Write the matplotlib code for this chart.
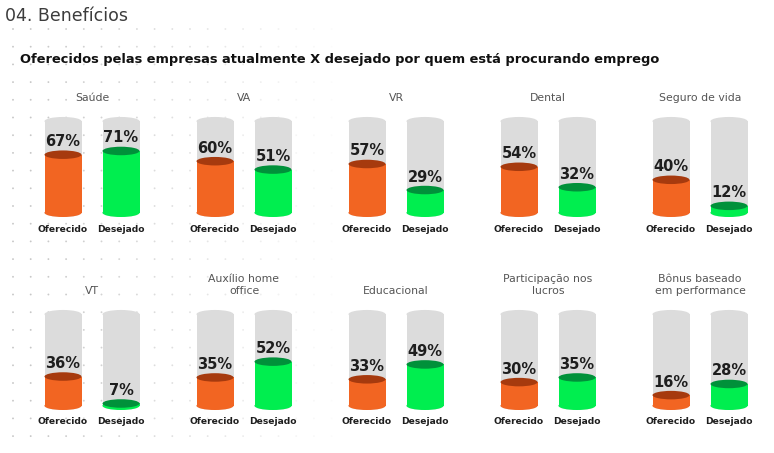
import numpy as np
import matplotlib.pyplot as plt
from matplotlib.patches import Ellipse, Rectangle

# data
categorias = ['Saúde', 'VA', 'VR', 'Dental', 'Seguro de vida',
              'VT', 'Auxílio home\noffice', 'Educacional',
              'Participação nos\nlucros', 'Bônus baseado\nem performance']
oferecido = [67, 60, 57, 54, 40, 36, 35, 33, 30, 16]
desejado = [71, 51, 29, 32, 12, 7, 52, 49, 35, 28]
series = ['Oferecido', 'Desejado']

titulo = '04. Benefícios'
subtitulo = 'Oferecidos pelas empresas atualmente X desejado por quem está procurando emprego'

W, H = 774, 453
LARANJA, LARANJA_TOPO = '#F26522', '#A63A0E'
VERDE, VERDE_TOPO = '#00EE4F', '#00913A'
CINZA = '#DCDCDC'
PX = 0.93          # pixels per percentage point
ELL = 8.5 / PX     # ellipse height in data units
LARG = 37          # cylinder width (px)

fig = plt.figure(figsize=(W / 100, H / 100), dpi=100)
fig.patch.set_facecolor('white')

# dotted background
bg = fig.add_axes([0, 0, 1, 1])
bg.set_xlim(0, W)
bg.set_ylim(H, 0)
bg.axis('off')
gx, gy = np.meshgrid(np.arange(13, 340, 17.7), np.arange(29, 445, 17.7))
alpha = np.clip(1.1 - gx / 320, 0, 1)
cores = np.zeros((gx.size, 4))
cores[:, :3] = 0.78
cores[:, 3] = alpha.ravel()
bg.scatter(gx.ravel(), gy.ravel(), s=1.8, c=cores, linewidths=0)

bg.text(5, 21, titulo, fontsize=12.5, color='#3c3c3c', va='baseline')
bg.text(20, 60, subtitulo, fontsize=9.35, color='#111111', fontweight='bold', va='center')


def cilindro(ax, x, valor, corpo, topo):
    ax.add_patch(Rectangle((x - LARG / 2, ELL / 2), LARG, max(valor - ELL / 2, 0),
                           facecolor=corpo, edgecolor='none', zorder=3))
    ax.add_patch(Ellipse((x, ELL / 2), LARG, ELL, facecolor=corpo, edgecolor='none', zorder=3))
    ax.add_patch(Ellipse((x, max(valor, ELL / 2)), LARG, ELL, facecolor=topo, edgecolor='none', zorder=4))


ymin, ymax = -22, 118
for i, cat in enumerate(categorias):
    lin, col = divmod(i, 5)
    cx = 92 + 152 * col
    base = 217 if lin == 0 else 410
    topo_px = base - ymax * PX
    alt_px = (ymax - ymin) * PX
    ax = fig.add_axes([(cx - 58) / W, 1 - (topo_px + alt_px) / H, 116 / W, alt_px / H])
    ax.set_xlim(-58, 58)
    ax.set_ylim(ymin, ymax)
    ax.axis('off')

    vals = [oferecido[i], desejado[i]]
    estilos = [(LARANJA, LARANJA_TOPO), (VERDE, VERDE_TOPO)]
    for j, (v, (c1, c2)) in enumerate(zip(vals, estilos)):
        x = -29 + 58 * j
        cilindro(ax, x, 103, CINZA, CINZA)
        cilindro(ax, x, v, c1, c2)
        ax.text(x, v + 13 / PX, f'{v}%', ha='center', va='center', fontsize=10.5,
                fontweight='bold', color='#1e1e1e', zorder=5)
        ax.text(x, -12 / PX, series[j], ha='center', va='center', fontsize=6.6,
                fontweight='bold', color='#1e1e1e')

    y_cat = 98 if lin == 0 else 291
    bg.text(cx, y_cat + 5, cat, ha='center', va='bottom', fontsize=7.8, color='#555555',
            linespacing=1.25)

fig.savefig('out.png', dpi=100, facecolor='white')
